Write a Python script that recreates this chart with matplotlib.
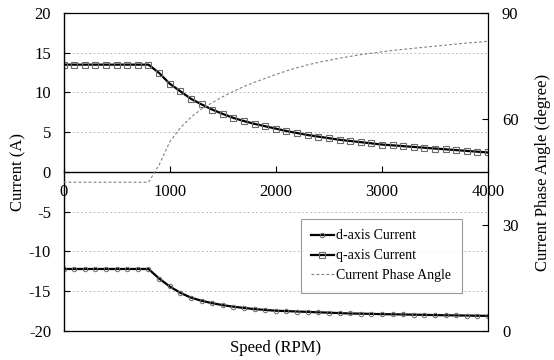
import matplotlib
matplotlib.use("Agg")
import matplotlib.pyplot as plt

plt.rcParams['font.family'] = ['Liberation Serif', 'DejaVu Serif']
plt.rcParams['axes.unicode_minus'] = False

speed = [0, 100, 200, 300, 400, 500, 600, 700, 800, 900,
         1000, 1100, 1200, 1300, 1400, 1500, 1600, 1700, 1800, 1900,
         2000, 2100, 2200, 2300, 2400, 2500, 2600, 2700, 2800, 2900,
         3000, 3100, 3200, 3300, 3400, 3500, 3600, 3700, 3800, 3900, 4000]
id_cur = [-12.2, -12.2, -12.2, -12.2, -12.2, -12.2, -12.2, -12.2, -12.2, -13.4,
          -14.4, -15.2, -15.8, -16.2, -16.5, -16.75, -16.95, -17.1, -17.25, -17.35,
          -17.45, -17.5, -17.55, -17.6, -17.65, -17.7, -17.75, -17.8, -17.82, -17.85,
          -17.88, -17.9, -17.92, -17.95, -17.97, -18.0, -18.02, -18.04, -18.06, -18.08, -18.1]
iq_cur = [13.5, 13.5, 13.5, 13.5, 13.5, 13.5, 13.5, 13.5, 13.5, 12.45,
          11.1, 10.15, 9.2, 8.5, 7.85, 7.3, 6.8, 6.4, 6.05, 5.75,
          5.45, 5.15, 4.9, 4.65, 4.45, 4.25, 4.05, 3.9, 3.75, 3.6,
          3.45, 3.35, 3.25, 3.15, 3.05, 2.95, 2.85, 2.75, 2.65, 2.55, 2.45]
phase = [42.1, 42.1, 42.1, 42.1, 42.1, 42.1, 42.1, 42.1, 42.1, 47.0,
         53.5, 57.5, 60.5, 62.8, 64.6, 66.3, 67.8, 69.2, 70.4, 71.5,
         72.6, 73.6, 74.5, 75.3, 76.0, 76.6, 77.2, 77.7, 78.2, 78.6,
         79.0, 79.4, 79.7, 80.0, 80.3, 80.6, 80.9, 81.2, 81.5, 81.7, 82.0]

fig = plt.figure(figsize=(5.54, 3.6), dpi=100)
ax = fig.add_axes([0.1148, 0.0806, 0.7662, 0.8834])
ax2 = ax.twinx()

l1, = ax.plot(speed, id_cur, color='black', lw=1.6, marker='o', ms=3.2,
              mfc='none', mec='dimgray', mew=0.7, label='d-axis Current')
l2, = ax.plot(speed, iq_cur, color='black', lw=1.6, marker='s', ms=4.6,
              mfc='none', mec='dimgray', mew=0.8, label='q-axis Current')
l3, = ax2.plot(speed, phase, color='gray', lw=0.8, ls=(0, (2.5, 2)),
               label='Current Phase Angle')

ax.set_xlim(0, 4000)
ax.set_ylim(-20, 20)
ax2.set_ylim(0, 90)
ax.set_xticks([0, 1000, 2000, 3000, 4000])
ax.set_yticks([-20, -15, -10, -5, 0, 5, 10, 15, 20])
ax2.set_yticks([0, 30, 60, 90])

for y in [-15, -10, -5, 5, 10, 15]:
    ax.axhline(y, color='darkgray', lw=0.6, ls=(0, (2, 3)), zorder=0)

ax.spines['bottom'].set_position(('data', 0))
ax.spines['bottom'].set_linewidth(1.0)
ax.spines['left'].set_linewidth(1.0)
ax.spines['top'].set_visible(False)
ax.spines['right'].set_visible(False)
ax2.spines['left'].set_visible(False)
for s in ['top', 'right', 'bottom']:
    ax2.spines[s].set_linestyle((0, (1, 1)))
    ax2.spines[s].set_linewidth(0.9)

ax.tick_params(axis='x', direction='in', length=4, pad=9, labelsize=12)
ax.tick_params(axis='y', direction='in', length=4, pad=9, labelsize=12)
ax2.tick_params(axis='y', direction='in', length=4, pad=10, labelsize=12)

ax.set_ylabel('Current (A)', fontsize=12, labelpad=2)
ax2.set_ylabel('Current Phase Angle (degree)', fontsize=12, labelpad=12)
fig.text(0.498, 0.033, 'Speed (RPM)', ha='center', va='center', fontsize=12)

leg = ax2.legend(handles=[l1, l2, l3], loc='upper left',
                 bbox_to_anchor=(0.559, 0.352), fontsize=10, frameon=True,
                 fancybox=False, edgecolor='gray', handlelength=1.6,
                 handletextpad=0.2, borderpad=0.75, labelspacing=0.5,
                 borderaxespad=0)
leg.get_frame().set_linewidth(0.8)

fig.savefig('out.png', dpi=100)
